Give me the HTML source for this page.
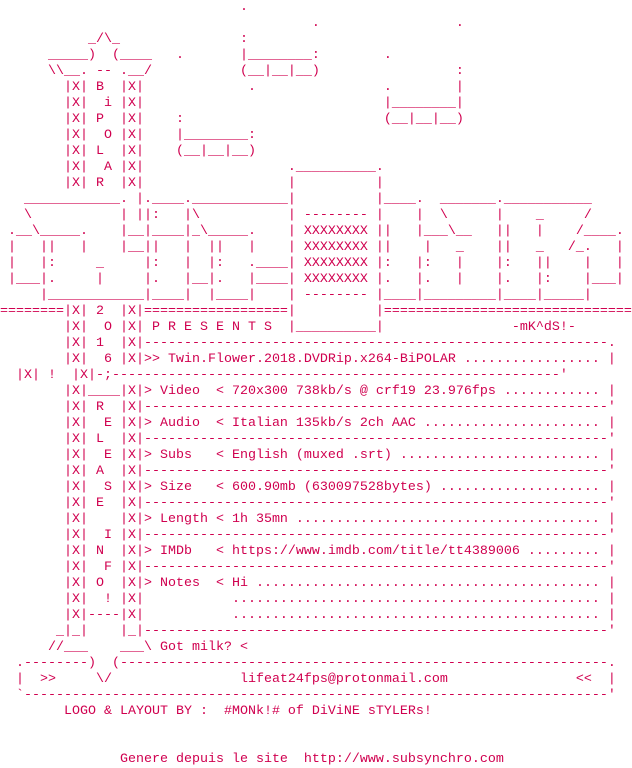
<!DOCTYPE html>
<html><head><meta charset="utf-8"><style>
html,body{margin:0;padding:0;background:#fff;width:632px;height:768px;overflow:hidden}
pre{margin:0;padding:0;font-family:"Liberation Mono",monospace;font-size:13.333px;line-height:16px;color:#d0004f;white-space:pre}
</style></head><body><pre>                              .
                                       .                 .
           _/\_               :
      _____)  (____   .       |________:        .
      \\__. -- .__/           (__|__|__)                 :
        |X| B  |X|             .                .        |
        |X|  i |X|                              |________|
        |X| P  |X|    :                         (__|__|__)
        |X|  O |X|    |________:
        |X| L  |X|    (__|__|__)
        |X|  A |X|                  .__________.
        |X| R  |X|                  |          |
   ____________. |.____.____________|          |____.  _______.___________
   \           | ||:   |\           | -------- |    |  \      |    _     /
 .__\_____.    |__|____|_\_____.    | XXXXXXXX ||   |___\__   ||   |    /____.
 |   ||   |    |__||   |  ||   |    | XXXXXXXX ||    |   _    ||   _   /_.   |
 |   |:     _     |:   |  |:   .____| XXXXXXXX |:   |:   |    |:   ||    |   |
 |___|.     |     |.   |__|.   |____| XXXXXXXX |.   |.   |    |.   |:    |___|
     |____________|____|  |____|    | -------- |____|_________|____|_____|
========|X| 2  |X|==================|          |===============================
        |X|  O |X| P R E S E N T S  |__________|                -mK^dS!-
        |X| 1  |X|----------------------------------------------------------.
        |X|  6 |X|&gt;&gt; Twin.Flower.2018.DVDRip.x264-BiPOLAR ................. |
  |X| !  |X|-;--------------------------------------------------------'
        |X|____|X|&gt; Video  &lt; 720x300 738kb/s @ crf19 23.976fps ............ |
        |X| R  |X|----------------------------------------------------------'
        |X|  E |X|&gt; Audio  &lt; Italian 135kb/s 2ch AAC ...................... |
        |X| L  |X|----------------------------------------------------------'
        |X|  E |X|&gt; Subs   &lt; English (muxed .srt) ......................... |
        |X| A  |X|----------------------------------------------------------'
        |X|  S |X|&gt; Size   &lt; 600.90mb (630097528bytes) .................... |
        |X| E  |X|----------------------------------------------------------'
        |X|    |X|&gt; Length &lt; 1h 35mn ...................................... |
        |X|  I |X|----------------------------------------------------------'
        |X| N  |X|&gt; IMDb   &lt; https://www.imdb.com/title/tt4389006 ......... |
        |X|  F |X|----------------------------------------------------------'
        |X| O  |X|&gt; Notes  &lt; Hi ........................................... |
        |X|  ! |X|           .............................................. |
        |X|----|X|           .............................................. |
       _|_|    |_|----------------------------------------------------------'
      //___    ___\ Got milk? &lt;
  .--------)  (-------------------------------------------------------------.
  |  &gt;&gt;     \/                lifeat24fps@protonmail.com                &lt;&lt;  |
  `-------------------------------------------------------------------------'
        LOGO &amp; LAYOUT BY :  #MONk!# of DiViNE sTYLERs!


               Genere depuis le site  http://www.subsynchro.com
</pre></body></html>
